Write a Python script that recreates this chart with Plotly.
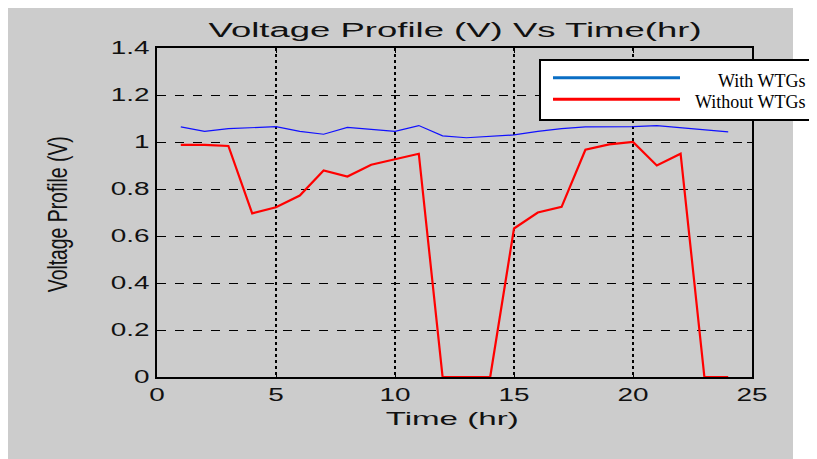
import plotly.graph_objects as go

# ---- data ----
hours = list(range(1, 25))
with_wtgs = [1.064, 1.045, 1.057, 1.062, 1.065, 1.045, 1.033, 1.062, 1.054, 1.045,
             1.070, 1.026, 1.018, 1.024, 1.030, 1.045, 1.057, 1.064, 1.064, 1.065,
             1.070, 1.061, 1.053, 1.043]
without_wtgs = [0.988, 0.988, 0.983, 0.696, 0.722, 0.772, 0.879, 0.853, 0.903, 0.926,
                0.950, 0.0, 0.0, 0.0, 0.632, 0.700, 0.724, 0.967, 0.990, 1.000,
                0.900, 0.950, 0.0, 0.0]
x_ticks = [0, 5, 10, 15, 20, 25]
y_ticks = [0, 0.2, 0.4, 0.6, 0.8, 1.0, 1.2, 1.4]
y_tick_text = ["0", "0.2", "0.4", "0.6", "0.8", "1", "1.2", "1.4"]
series_names = ["With WTGs", "Without WTGs"]
title_text = "Voltage Profile (V) Vs Time(hr)"
x_title = "Time (hr)"
y_title = "Voltage Profile (V)"

W, H = 817, 459
OFF = 8  # page body margin shifts the figure by 8px
# plot area in window pixels: x 157..752, y 48..377
L, T = 157 - OFF, 48 - OFF
R, B = W - (752 - OFF), H - (377 - OFF)
PW, PH = 752 - 157, 377 - 48


def px(xp):  # window pixel -> paper x
    return (xp - 157) / PW


def py(yp):  # window pixel -> paper y
    return (377 - yp) / PH


fig = go.Figure()
fig.add_trace(go.Scatter(x=hours, y=with_wtgs, mode="lines", name=series_names[0],
                         line=dict(color="#1010ff", width=1.2), showlegend=False))
fig.add_trace(go.Scatter(x=hours, y=without_wtgs, mode="lines", name=series_names[1],
                         line=dict(color="#ff0000", width=2.2), showlegend=False))

tickfont = dict(family="Liberation Sans, Arial, sans-serif", size=18, color="#111")

fig.update_xaxes(range=[0, 25], tickvals=x_ticks, ticktext=[str(v) for v in x_ticks],
                 showgrid=True, gridcolor="black", griddash="dot", gridwidth=2,
                 showline=True, linecolor="black", linewidth=1.5, mirror="ticks",
                 ticks="inside", ticklen=5, tickcolor="black", tickfont=tickfont,
                 zeroline=False, ticklabelstandoff=1)
fig.update_yaxes(range=[0, 1.4], tickvals=y_ticks, ticktext=y_tick_text,
                 showgrid=True, gridcolor="black", griddash="dash", gridwidth=1,
                 showline=True, linecolor="black", linewidth=1.5, mirror="ticks",
                 ticks="inside", ticklen=5, tickcolor="black", tickfont=tickfont,
                 zeroline=False, ticklabelstandoff=2)

shapes = [
    # grey figure background
    dict(type="rect", xref="paper", yref="paper", layer="below",
         x0=px(8), x1=px(793), y0=py(470), y1=py(4),
         fillcolor="#cccccc", line=dict(width=0)),
    # legend box
    dict(type="rect", xref="paper", yref="paper", layer="above",
         x0=px(540), x1=px(840), y0=py(120), y1=py(60),
         fillcolor="white", line=dict(color="black", width=2)),
    dict(type="line", xref="paper", yref="paper", x0=px(553), x1=px(680),
         y0=py(77.7), y1=py(77.7), line=dict(color="#0a6ec4", width=3)),
    dict(type="line", xref="paper", yref="paper", x0=px(553), x1=px(680),
         y0=py(99.3), y1=py(99.3), line=dict(color="#ff0000", width=3)),
]

annotations = [
    dict(text=title_text, xref="paper", yref="paper", x=0.5, y=py(30),
         xanchor="center", yanchor="middle", showarrow=False,
         font=dict(family="Liberation Sans, Arial, sans-serif", size=20, color="#111")),
    dict(text=x_title, xref="paper", yref="paper", x=px(452), y=py(418),
         xanchor="center", yanchor="middle", showarrow=False,
         font=dict(family="Liberation Sans, Arial, sans-serif", size=19, color="#111")),
    dict(text=y_title, xref="paper", yref="paper", x=px(58), y=py(214),
         xanchor="center", yanchor="middle", showarrow=False, textangle=-90,
         font=dict(family="Liberation Sans, Arial, sans-serif", size=27, color="#111")),
    dict(text=series_names[0], xref="paper", yref="paper", x=px(807), y=py(81),
         xanchor="right", yanchor="middle", showarrow=False,
         font=dict(family="Liberation Serif, Times New Roman, serif", size=18, color="black")),
    dict(text=series_names[1], xref="paper", yref="paper", x=px(807), y=py(102),
         xanchor="right", yanchor="middle", showarrow=False,
         font=dict(family="Liberation Serif, Times New Roman, serif", size=18, color="black")),
]

fig.update_layout(width=W, height=H, autosize=False,
                  margin=dict(l=L, r=R, t=T, b=B, pad=0),
                  paper_bgcolor="white", plot_bgcolor="white",
                  shapes=shapes, annotations=annotations, showlegend=False)

# The reference's sans-serif text is horizontally stretched; reproduce with SVG textLength.
post_js = """
(function(){
  var gd = document.getElementById('{plot_id}');
  function setLen(t, fn){
    t.removeAttribute('textLength');
    var len = t.getComputedTextLength();
    t.setAttribute('textLength', fn(len));
    t.setAttribute('lengthAdjust', 'spacingAndGlyphs');
  }
  function stretch(){
    gd.querySelectorAll('.xtick text, .ytick text').forEach(function(t){
      setLen(t, function(l){ return l * 1.55; });
    });
    gd.querySelectorAll('g.annotation').forEach(function(g){
      var i = g.getAttribute('data-index');
      var t = g.querySelector('text');
      if(!t) return;
      if(i === '0') setLen(t, function(l){ return 493; });
      if(i === '1') setLen(t, function(l){ return 133; });
      if(i === '2') setLen(t, function(l){ return 156; });
    });
  }
  stretch();
  gd.on('plotly_afterplot', stretch);
})();
"""

fig.write_html("out.html", post_script=post_js)
